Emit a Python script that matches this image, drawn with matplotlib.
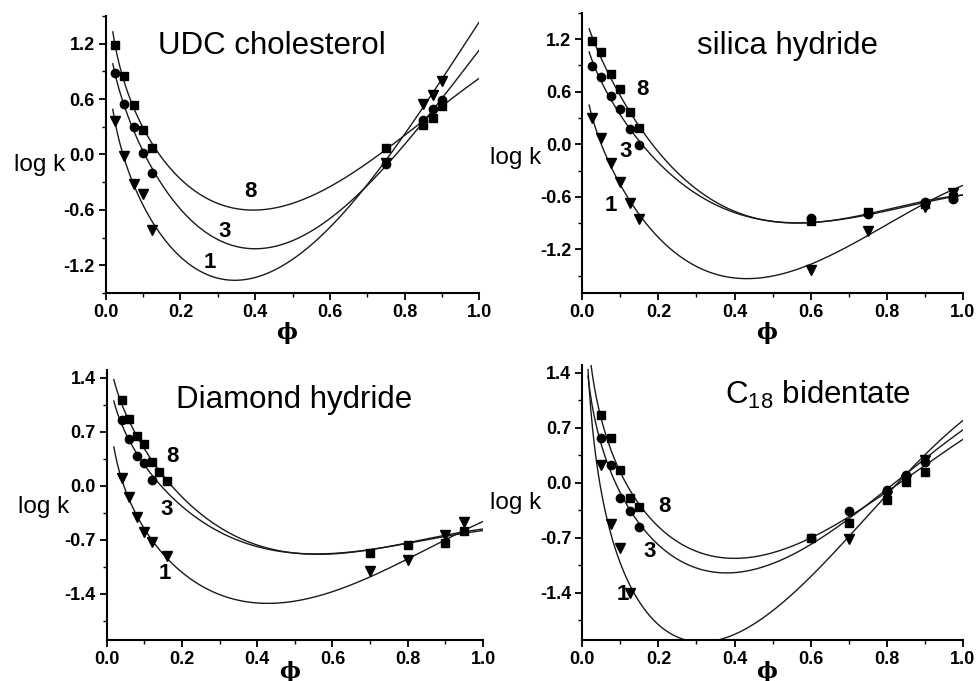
import numpy as np
import matplotlib.pyplot as plt
from matplotlib.ticker import MultipleLocator, AutoMinorLocator

plt.rcParams['font.family'] = ['Liberation Sans', 'DejaVu Sans']
plt.rcParams['mathtext.default'] = 'regular'

# ---- UDC cholesterol ----
p1_x = [0.025, 0.05, 0.075, 0.1, 0.125, 0.75, 0.85, 0.875, 0.9]
p1_sq = [1.19, 0.855, 0.533, 0.26, 0.066, 0.066, 0.32, 0.40, 0.53]
p1_ci = [0.885, 0.548, 0.30, 0.015, -0.203, -0.105, 0.37, 0.49, 0.59]
p1_tr = [0.366, -0.015, -0.322, -0.431, -0.82, -0.09, 0.548, 0.645, 0.80]
# fitted curves
p1_c8_phi = [0.019, 0.025, 0.05, 0.075, 0.1, 0.125, 0.208, 0.279, 0.359, 0.413, 0.502, 0.591, 0.681, 0.75, 0.814, 0.875, 1.0]
p1_c8 = [1.29, 1.19, 0.855, 0.533, 0.26, 0.066, -0.304, -0.504, -0.594, -0.587, -0.515, -0.358, -0.123, 0.066, 0.221, 0.40, 0.855]
p1_c3_phi = [0.019, 0.025, 0.05, 0.075, 0.1, 0.125, 0.208, 0.279, 0.359, 0.413, 0.502, 0.591, 0.681, 0.75, 0.875, 1.0]
p1_c3 = [0.957, 0.885, 0.548, 0.30, 0.015, -0.203, -0.63, -0.885, -0.993, -0.986, -0.92, -0.739, -0.45, -0.105, 0.493, 1.127]
p1_c1_phi = [0.019, 0.025, 0.05, 0.075, 0.1, 0.125, 0.208, 0.279, 0.359, 0.413, 0.502, 0.591, 0.681, 0.75, 0.875, 1.0]
p1_c1 = [0.457, 0.366, -0.015, -0.322, -0.52, -0.75, -1.211, -1.32, -1.337, -1.283, -1.138, -0.81, -0.41, -0.09, 0.645, 1.453]

# ---- silica hydride ----
p2_x = [0.025, 0.05, 0.075, 0.1, 0.125, 0.15, 0.6, 0.75, 0.9, 0.975]
p2_sq = [1.173, 1.047, 0.803, 0.628, 0.372, 0.189, -0.876, -0.77, -0.68, -0.60]
p2_ci = [0.898, 0.765, 0.551, 0.40, 0.174, -0.009, -0.837, -0.79, -0.658, -0.63]
p2_tr = [0.296, 0.067, -0.212, -0.429, -0.67, -0.848, -1.43, -0.99, -0.715, -0.56]
p2_c8_phi = [0.018, 0.024, 0.048, 0.074, 0.098, 0.124, 0.149, 0.2, 0.251, 0.34, 0.435, 0.502, 0.598, 0.677, 0.75, 0.826, 0.9, 1.0]
p2_c8 = [1.314, 1.2, 1.047, 0.803, 0.60, 0.372, 0.189, -0.143, -0.41, -0.62, -0.77, -0.83, -0.87, -0.865, -0.82, -0.753, -0.67, -0.545]
p2_c3_phi = [0.018, 0.024, 0.048, 0.074, 0.098, 0.124, 0.149, 0.2, 0.251, 0.34, 0.435, 0.502, 0.598, 0.677, 0.75, 0.826, 0.9, 1.0]
p2_c3 = [1.04, 0.96, 0.765, 0.551, 0.38, 0.174, -0.009, -0.22, -0.467, -0.66, -0.79, -0.845, -0.88, -0.87, -0.825, -0.755, -0.67, -0.56]
p2_c1_phi = [0.018, 0.024, 0.05, 0.074, 0.098, 0.124, 0.149, 0.251, 0.339, 0.435, 0.502, 0.598, 0.677, 0.75, 0.826, 0.9, 1.0]
p2_c1 = [0.448, 0.296, 0.067, -0.212, -0.429, -0.67, -0.848, -1.287, -1.459, -1.508, -1.477, -1.371, -1.21, -1.05, -0.868, -0.696, -0.448]

# ---- Diamond hydride ----
p3_sq_x = [0.04, 0.06, 0.08, 0.1, 0.12, 0.14, 0.16, 0.7, 0.8, 0.9, 0.95]
p3_sq = [1.116, 0.87, 0.642, 0.535, 0.31, 0.173, 0.064, -0.866, -0.767, -0.737, -0.582]
p3_ci_x = [0.04, 0.06, 0.08, 0.1, 0.12]
p3_ci = [0.857, 0.6, 0.383, 0.297, 0.078]
p3_tr_x = [0.04, 0.06, 0.08, 0.1, 0.12, 0.16, 0.7, 0.8, 0.9, 0.95]
p3_tr = [0.095, -0.142, -0.4, -0.595, -0.724, -0.909, -1.111, -0.961, -0.637, -0.465]
p3_c8_phi = [0.019, 0.04, 0.06, 0.08, 0.1, 0.12, 0.14, 0.16, 0.248, 0.337, 0.434, 0.496, 0.585, 0.7, 0.802, 0.902, 1.0]
p3_c8 = [1.33, 1.116, 0.87, 0.642, 0.50, 0.31, 0.173, 0.064, -0.422, -0.659, -0.767, -0.822, -0.874, -0.853, -0.758, -0.672, -0.53]
p3_c3_phi = [0.019, 0.04, 0.06, 0.08, 0.1, 0.12, 0.16, 0.248, 0.337, 0.434, 0.496, 0.585, 0.7, 0.802, 0.902, 1.0]
p3_c3 = [1.05, 0.857, 0.62, 0.43, 0.27, 0.12, -0.13, -0.486, -0.693, -0.78, -0.83, -0.88, -0.855, -0.76, -0.672, -0.56]
p3_c1_phi = [0.019, 0.043, 0.062, 0.08, 0.1, 0.12, 0.162, 0.248, 0.337, 0.434, 0.496, 0.585, 0.7, 0.802, 0.902, 1.0]
p3_c1 = [0.46, 0.095, -0.142, -0.4, -0.595, -0.724, -0.95, -1.33, -1.477, -1.499, -1.468, -1.37, -1.197, -0.982, -0.702, -0.444]

# ---- C18 bidentate ----
p4_sq_x = [0.05, 0.075, 0.1, 0.125, 0.15, 0.6, 0.7, 0.8, 0.85, 0.9]
p4_sq = [0.861, 0.566, 0.164, -0.187, -0.313, -0.70, -0.511, -0.216, 0.008, 0.143]
p4_ci_x = [0.05, 0.075, 0.1, 0.125, 0.15, 0.6, 0.7, 0.8, 0.85, 0.9]
p4_ci = [0.566, 0.228, -0.195, -0.352, -0.562, -0.70, -0.355, -0.089, 0.101, 0.27]
p4_tr_x = [0.05, 0.075, 0.1, 0.125, 0.7, 0.8, 0.85, 0.9]
p4_tr = [0.228, -0.524, -0.828, -1.4, -0.714, -0.17, 0.04, 0.291]
p4_c8_phi = [0.022, 0.048, 0.073, 0.098, 0.124, 0.148, 0.251, 0.365, 0.435, 0.501, 0.6, 0.698, 0.8, 0.9, 1.0]
p4_c8 = [1.5, 0.861, 0.566, 0.164, -0.15, -0.313, -0.786, -0.935, -0.913, -0.871, -0.694, -0.448, -0.153, 0.228, 0.566]
p4_c3_phi = [0.015, 0.048, 0.073, 0.098, 0.124, 0.148, 0.251, 0.356, 0.435, 0.501, 0.6, 0.698, 0.8, 0.9, 1.0]
p4_c3 = [1.33, 0.566, 0.228, -0.15, -0.35, -0.52, -1.04, -1.132, -1.103, -1.006, -0.723, -0.47, -0.131, 0.27, 0.713]
p4_c1_phi = [0.015, 0.046, 0.076, 0.102, 0.12, 0.155, 0.19, 0.251, 0.29, 0.321, 0.414, 0.501, 0.6, 0.698, 0.8, 0.9, 1.0]
p4_c1 = [1.33, 0.2, -0.47, -1.06, -1.4, -1.7, -1.86, -1.99, -2.02, -1.99, -1.842, -1.505, -1.125, -0.745, -0.237, 0.27, 0.883]


def smooth(phi, logk):
    # least squares smoothing of the read curve: a + b*phi + c*phi^2 + d*phi^3 + e*ln(phi)
    phi = np.asarray(phi)
    base = lambda p: np.column_stack([np.ones_like(p), p, p**2, p**3, np.log(p)])
    coef = np.linalg.lstsq(base(phi), np.asarray(logk), rcond=None)[0]
    grid = np.linspace(phi[0], 1.0, 400)
    return grid, base(grid) @ coef


panels = [
    dict(rect=[0.1083, 0.5698, 0.3828, 0.4067], ylim=(-1.5, 1.5), step=0.6,
         title='UDC cholesterol', tpos=(0.14, 0.89), lk=(-0.109, 0.462), phy=-0.144,
         sq=(p1_x, p1_sq), ci=(p1_x, p1_ci), tr=(p1_x, p1_tr),
         curves=[(p1_c8_phi, p1_c8), (p1_c3_phi, p1_c3), (p1_c1_phi, p1_c1)],
         nums=[(0.388, -0.406), (0.319, -0.83), (0.279, -1.167)]),
    dict(rect=[0.5966, 0.5693, 0.390, 0.412], ylim=(-1.7, 1.5), step=0.6,
         title='silica hydride', tpos=(0.302, 0.881), lk=(-0.108, 0.481), phy=-0.14,
         sq=(p2_x, p2_sq), ci=(p2_x, p2_ci), tr=(p2_x, p2_tr),
         curves=[(p2_c8_phi, p2_c8), (p2_c3_phi, p2_c3), (p2_c1_phi, p2_c1)],
         nums=[(0.159, 0.628), (0.113, -0.086), (0.075, -0.696)]),
    dict(rect=[0.1093, 0.0602, 0.3856, 0.3965], ylim=(-2.0, 1.5), step=0.7,
         title='Diamond hydride', tpos=(0.184, 0.889), lk=(-0.099, 0.494), phy=-0.118,
         sq=(p3_sq_x, p3_sq), ci=(p3_ci_x, p3_ci), tr=(p3_tr_x, p3_tr),
         curves=[(p3_c8_phi, p3_c8), (p3_c3_phi, p3_c3), (p3_c1_phi, p3_c1)],
         nums=[(0.175, 0.383), (0.159, -0.305), (0.155, -1.141)]),
    dict(rect=[0.5966, 0.0602, 0.390, 0.4038], ylim=(-2.0, 1.5), step=0.7,
         title='C$_{18}$ bidentate', tpos=(0.374, 0.891), lk=(-0.108, 0.497), phy=-0.116,
         sq=(p4_sq_x, p4_sq), ci=(p4_ci_x, p4_ci), tr=(p4_tr_x, p4_tr),
         curves=[(p4_c8_phi, p4_c8), (p4_c3_phi, p4_c3), (p4_c1_phi, p4_c1)],
         nums=[(0.216, -0.301), (0.177, -0.871), (0.106, -1.42)]),
]

fig = plt.figure(figsize=(9.76, 6.81), dpi=100)

for p in panels:
    ax = fig.add_axes(p['rect'])
    for phi, lk in p['curves']:
        gx, gy = smooth(phi, lk)
        ax.plot(gx, gy, color='#1a1a1a', lw=1.0, zorder=2)
    ax.plot(*p['ci'], 'o', color='black', ms=6, zorder=3)
    ax.plot(*p['tr'], 'v', color='black', ms=6.5, zorder=3)
    ax.plot(*p['sq'], 's', color='black', ms=5.5, zorder=4)
    for lab, (nx, ny) in zip(['8', '3', '1'], p['nums']):
        ax.text(nx, ny, lab, fontsize=16, fontweight='bold', ha='center', va='center', zorder=5)

    ax.set_xlim(0, 1.0)
    ax.set_ylim(*p['ylim'])
    ax.xaxis.set_major_locator(MultipleLocator(0.2))
    ax.xaxis.set_minor_locator(AutoMinorLocator(2))
    ax.yaxis.set_major_locator(MultipleLocator(p['step']))
    ax.yaxis.set_minor_locator(AutoMinorLocator(2))
    ax.xaxis.set_major_formatter(lambda v, pos: f'{v:.1f}')
    ax.yaxis.set_major_formatter(lambda v, pos: f'{v:.1f}'.replace('-0.0', '0.0'))
    for s in ['top', 'right']:
        ax.spines[s].set_visible(False)
    for s in ['left', 'bottom']:
        ax.spines[s].set_linewidth(1.5)
    ax.tick_params(which='major', direction='out', length=5, width=1.3, labelsize=13, pad=3)
    ax.tick_params(which='minor', direction='out', length=3, width=1.0)
    for t in ax.get_xticklabels() + ax.get_yticklabels():
        t.set_fontweight('bold')

    ax.text(*p['tpos'], p['title'], transform=ax.transAxes, fontsize=22.5, va='center', ha='left')
    ax.text(*p['lk'], 'log k', transform=ax.transAxes, fontsize=17.5, va='center', ha='right')
    ax.text(0.485, p['phy'], 'ϕ', transform=ax.transAxes, fontsize=16, fontweight='bold',
            va='center', ha='center', family=['DejaVu Serif'])

fig.savefig('out.png', dpi=100)
